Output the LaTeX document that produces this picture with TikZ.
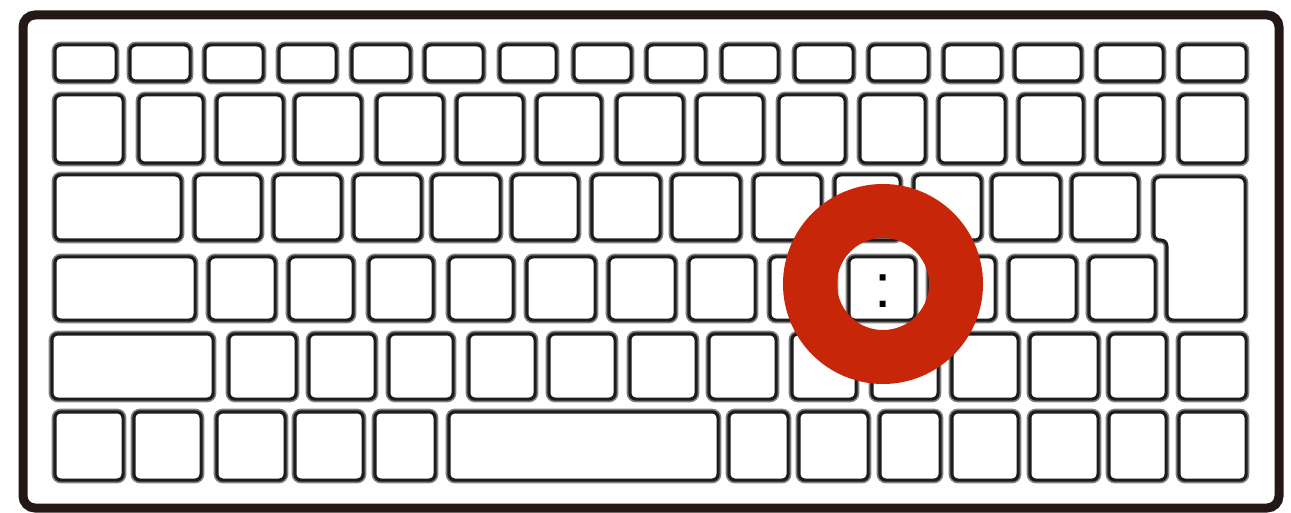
\documentclass[tikz,border=0pt]{standalone}
\usepackage{fontspec}
\newfontfamily\libsans{Liberation Sans}
\definecolor{ringred}{RGB}{200,38,8}
\definecolor{framedark}{RGB}{35,24,21}
\definecolor{keyline}{RGB}{28,28,28}
\tikzset{
  keybox/.style={draw=keyline, line width=3.2pt, rounded corners=6pt, fill=white,
    inner sep=0pt, outer sep=0pt,
    preaction={draw=black!50, line width=6.5pt}},
  enterbox/.style={draw=keyline, line width=3.2pt, rounded corners=6pt, fill=white,
    preaction={draw=black!50, line width=6.5pt}},
  kbframe/.style={draw=framedark, line width=9pt, rounded corners=12pt, fill=white,
    inner sep=0pt, outer sep=0pt},
  ringmark/.style={draw=ringred, line width=54pt},
  colonlabel/.style={font=\fontsize{62}{62}\selectfont\libsans, inner sep=0pt, text=black}
}
\newcommand\kbkey[5]{\node[keybox, minimum width={#4-#2-3.8}, minimum height={#5-#3-3.8}] (#1) at ({(#2+#4)/2},{(#3+#5)/2}) {};}
\begin{document}
\begin{tikzpicture}[x=1pt,y=-1pt]
\useasboundingbox (0,0) rectangle (1291,513);
\fill[white] (0,0) rectangle (1291,513);
\node[kbframe, minimum width=1256, minimum height=493] (frame) at (651,261.5) {};
% row 1
\foreach \a/\b [count=\i] in {53/118,128/192,203/265,277/338,350/412,423/485,498/558,572/633,645/707,720/780,793/855,867/930,942/1003,1013/1083,1095/1165,1177/1248}
  {\kbkey{ra\i}{\a}{43}{\b}{83}}
% row 2
\foreach \a/\b [count=\i] in {53/125,137/205,215/285,293/363,375/445,455/525,535/603,615/685,695/765,777/847,858/927,937/1007,1017/1085,1095/1165,1177/1248}
  {\kbkey{rb\i}{\a}{93}{\b}{165}}
% row 3
\foreach \a/\b [count=\i] in {53/183,193/263,272/343,352/423,430/502,510/580,590/662,670/742,752/823,833/902,912/983,990/1062,1070/1140}
  {\kbkey{rc\i}{\a}{173}{\b}{242}}
% enter key
\draw[enterbox] (1153.9,176.9) -- (1245.1,176.9) -- (1245.1,320.1) -- (1166.9,320.1) -- (1166.9,240.1) -- (1153.9,240.1) -- cycle;
\coordinate (enter) at (1205,250);
% row 4
\foreach \a/\b [count=\i] in {53/197,207/277,287/355,367/435,447/515,525/597,607/677,687/757,768/837,847/917,927/997,1007/1078,1087/1157}
  {\kbkey{rd\i}{\a}{255}{\b}{322}}
% row 5
\foreach \a/\b [count=\i] in {50/215,227/298,307/377,387/455,467/537,547/617,628/698,707/778,790/858,870/940,950/1020,1028/1100,1107/1168,1177/1248}
  {\kbkey{re\i}{\a}{332}{\b}{401}}
% row 6
\foreach \a/\b [count=\i] in {53/125,132/203,215/287,293/365,373/437,447/720,727/790,797/870,878/942,950/1020,1028/1100,1107/1168,1177/1248}
  {\kbkey{rf\i}{\a}{410}{\b}{482}}
% highlight ring
\draw[ringmark] (883,284) circle (73);
\node[colonlabel] (colon) at (883,291.5) {:};
\end{tikzpicture}
\end{document}
